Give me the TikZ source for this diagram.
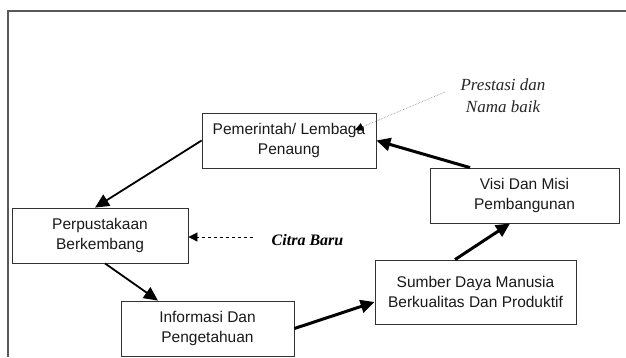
\documentclass[tikz,border=0pt]{standalone}
\usepackage{fontspec}
\setmainfont{Liberation Serif}
\setsansfont{Liberation Sans}
\usetikzlibrary{arrows.meta,positioning}

\begin{document}
\begin{tikzpicture}[x=1pt, y=-1pt,
    box/.style = {shape=rectangle, draw=black!80, line width=0.8pt,
      minimum height=55pt, align=center, inner sep=0pt, text=black!90,
      font=\sffamily\fontsize{15.5}{20}\selectfont},
    flow/.style = {-{Triangle[length=14pt,width=13pt]}, line width=1.8pt},
    bigflow/.style = {flow, line width=3pt}]
  \useasboundingbox (0,0) rectangle (626,357);
  \draw[black!65, line width=2pt] (626,11) -| (8,357);
  \node[box, minimum width=174pt] (pemerintah) at (289,140.5) {Pemerintah/ Lembaga\\Penaung};
  \node[box, minimum width=189pt] (visi) at (524.5,195.5) {Visi Dan Misi\\Pembangunan};
  \node[box, minimum width=176pt] (perpus) at (100,235.5) {Perpustakaan\\Berkembang};
  \node[box, minimum width=173pt] (info) at (207.5,328.5) {Informasi Dan\\Pengetahuan};
  \node[box, minimum width=201pt, minimum height=64pt] (sumber) at (475.5,292) {Sumber Daya Manusia\\Berkualitas Dan Produktif};
  \node[font=\bfseries\itshape\fontsize{16}{20}\selectfont, inner sep=0pt] (citra) at (307.5,240) {Citra Baru};
  \node[font=\itshape\fontsize{17}{22}\selectfont, align=center, inner sep=0pt, text=black!85] (prestasi) at (503,96) {Prestasi dan\\Nama baik};
  \coordinate (citratail) at (253,237);
  \coordinate (prestail) at (445,92);
  \coordinate (prestip) at (355,130);
  % the cycle
  \draw[flow] (pemerintah.west) -- ([xshift=-5pt]perpus.north);
  \draw[flow] ([xshift=5pt]perpus.south) -- ([xshift=-49.5pt]info.north);
  \draw[bigflow] (info.east) -- ([yshift=-10pt]sumber.west);
  \draw[bigflow] ([xshift=-20.5pt]sumber.north) -- ([xshift=-14.5pt]visi.south);
  \draw[bigflow] ([xshift=-54.5pt]visi.north) -- (pemerintah.east);
  % side notes
  \draw[dashed, line width=0.8pt, -{Triangle[length=9pt,width=9pt]}] (citratail) -- (perpus.east |- citratail);
  \draw[gray, densely dotted, line width=0.6pt, -{Triangle[length=8pt,width=8pt,color=black]}] (prestail) -- (prestip);
\end{tikzpicture}
\end{document}
